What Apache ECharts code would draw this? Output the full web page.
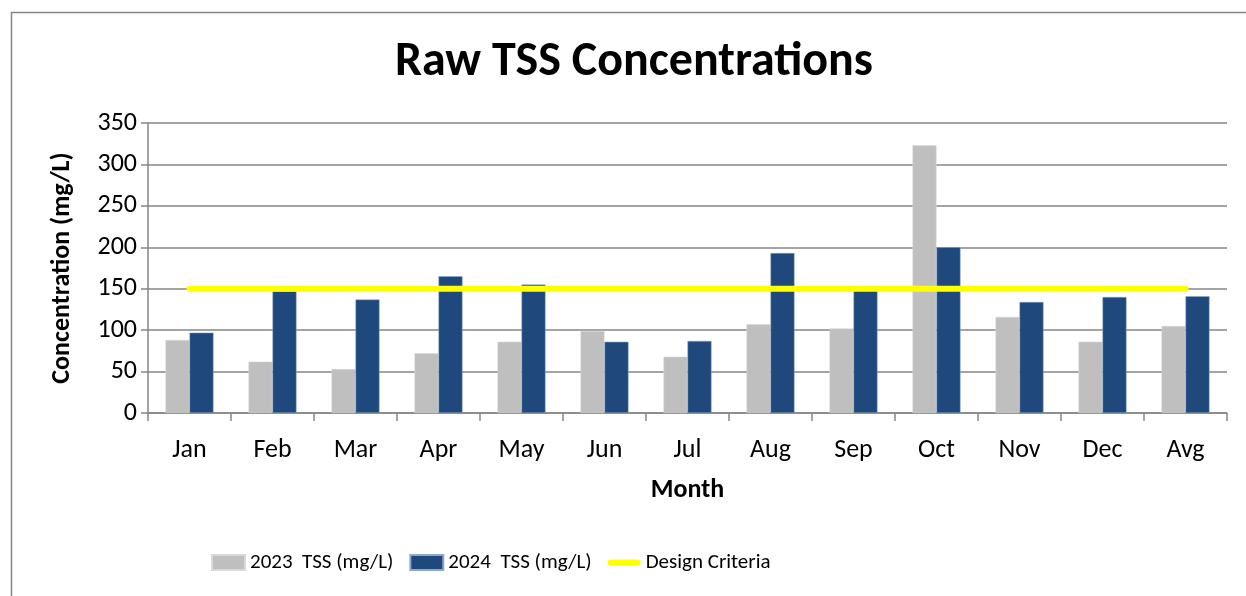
<!DOCTYPE html>
<html>
<head>
<meta charset="utf-8">
<script src="https://cdn.jsdelivr.net/npm/echarts@6/dist/echarts.min.js"></script>
<style>html,body{margin:0;padding:0;background:#fff;}#c{width:1246px;height:596px;}</style>
</head>
<body>
<div id="c"></div>
<script>
const categories = ['Jan','Feb','Mar','Apr','May','Jun','Jul','Aug','Sep','Oct','Nov','Dec','Avg'];
const tss2023 = [88, 62, 53, 72, 86, 99, 68, 107, 102, 323, 116, 86, 105];
const tss2024 = [97, 147, 137, 165, 155, 86, 87, 193, 148, 200, 134, 140, 141];
const designCriteria = [150,150,150,150,150,150,150,150,150,150,150,150,150];
const yTicks = [0, 350, 50];

const FONT = 'Carlito, "Liberation Sans", Arial, sans-serif';
const chart = echarts.init(document.getElementById('c'), null, {renderer:'canvas'});
chart.setOption({
  animation: false,
  backgroundColor: '#fff',
  textStyle: {fontFamily: FONT, color: '#000'},
  graphic: [{
    type: 'rect', left: 9, top: 10, z: -1,
    shape: {x: 0, y: 0, width: 1260, height: 600},
    style: {fill: 'none', stroke: '#868686', lineWidth: 1.5}
  }],
  title: {
    text: 'Raw TSS Concentrations', left: 629, textAlign: 'center', top: 34,
    textStyle: {fontFamily: FONT, fontSize: 48, fontWeight: 'bold', color: '#000'}
  },
  legend: {
    top: 547, left: 206, itemGap: 16, itemWidth: 33, itemHeight: 15,
    textStyle: {fontFamily: FONT, fontSize: 21, color: '#000'},
    data: [
      {name: '2023  TSS (mg/L)', icon: 'rect'},
      {name: '2024  TSS (mg/L)', icon: 'rect'},
      {name: 'Design Criteria', icon: 'path://M0,0M33,15M3,4.5h27a3,3 0 0 1 0,6h-27a3,3 0 0 1 0,-6z',
       itemStyle: {color: '#FFFF00'}}
    ]
  },
  grid: {left: 148, right: 19, top: 123, bottom: 183},
  xAxis: {
    type: 'category', data: categories, boundaryGap: true,
    name: 'Month', nameLocation: 'middle', nameGap: 64,
    nameTextStyle: {fontFamily: FONT, fontSize: 26, fontWeight: 'bold', color: '#000'},
    axisLine: {lineStyle: {color: '#868686', width: 1.5}},
    axisTick: {show: true, length: 8, alignWithLabel: false, lineStyle: {color: '#868686', width: 1.5}},
    axisLabel: {fontFamily: FONT, fontSize: 26, color: '#000', margin: 24}
  },
  yAxis: {
    type: 'value', min: yTicks[0], max: yTicks[1], interval: yTicks[2],
    name: 'Concentration (mg/L)', nameLocation: 'middle', nameGap: 73,
    nameTextStyle: {fontFamily: FONT, fontSize: 26, fontWeight: 'bold', color: '#000'},
    axisLine: {show: true, lineStyle: {color: '#868686', width: 1.5}},
    axisTick: {show: true, length: 7, lineStyle: {color: '#868686', width: 1.5}},
    splitLine: {show: true, lineStyle: {color: '#868686', width: 1.5}},
    axisLabel: {fontFamily: FONT, fontSize: 26, color: '#000', margin: 11}
  },
  series: [
    {name: '2023  TSS (mg/L)', type: 'bar', data: tss2023, barWidth: 24, barGap: '0%',
     itemStyle: {color: '#BFBFBF', borderColor: '#D9D9D9', borderWidth: 0.5}},
    {name: '2024  TSS (mg/L)', type: 'bar', data: tss2024, barWidth: 24, barGap: '0%',
     itemStyle: {color: '#1F497D', borderColor: '#8EA9CC', borderWidth: 0.5}},
    {name: 'Design Criteria', type: 'line', data: designCriteria, symbol: 'none', showSymbol: false,
     lineStyle: {color: '#FFFF00', width: 6, cap: 'round'}, itemStyle: {color: '#FFFF00'}, z: 5}
  ]
});
</script>
</body>
</html>
